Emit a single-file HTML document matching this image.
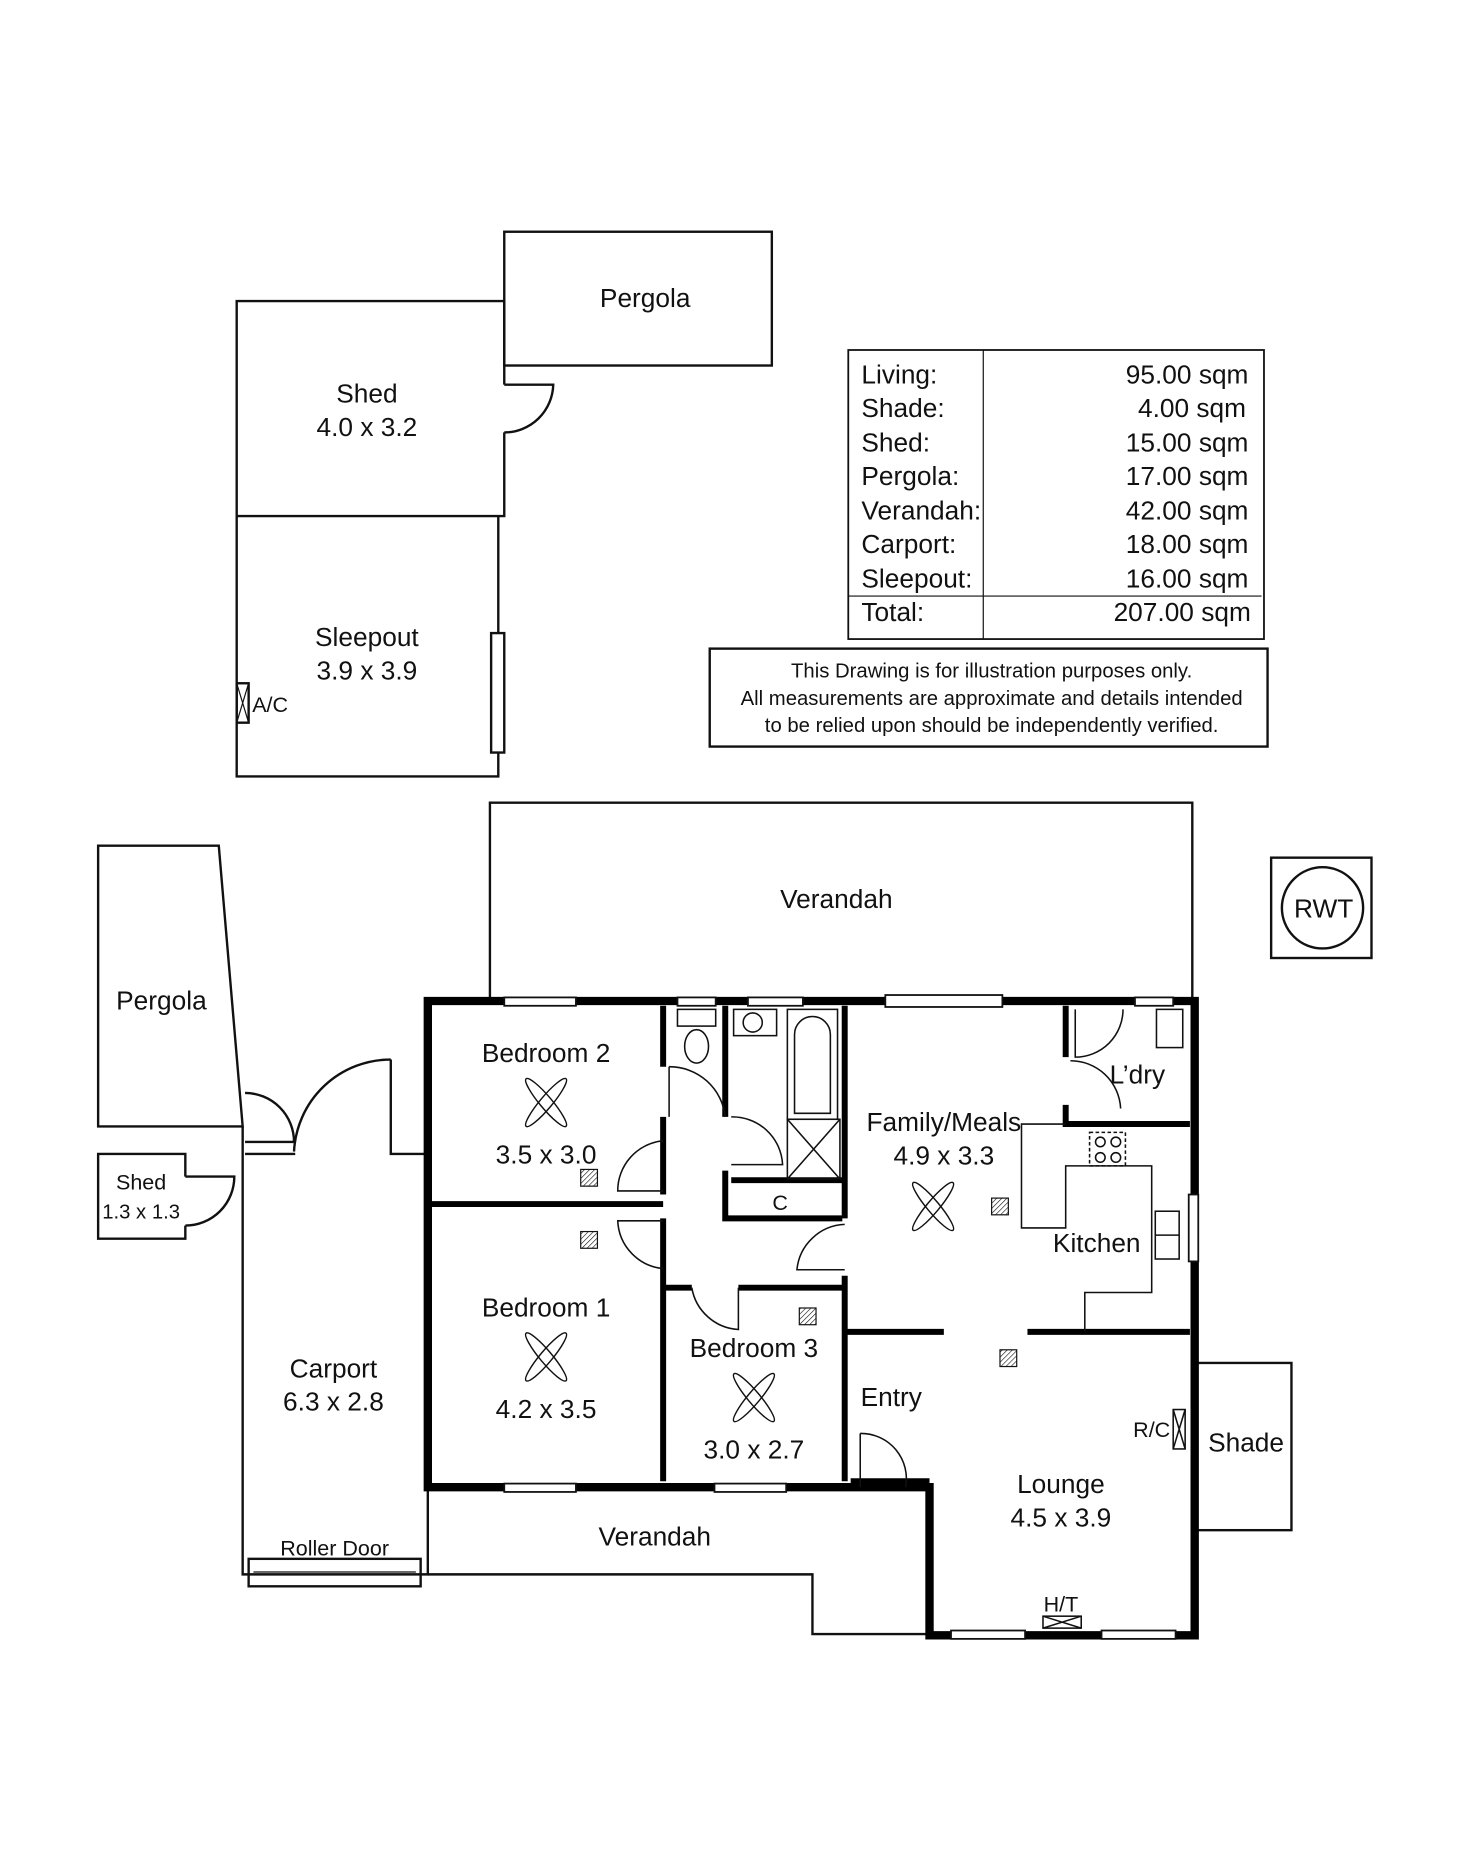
<!DOCTYPE html>
<html><head><meta charset="utf-8"><style>
html,body{margin:0;padding:0;background:#fff;}
svg{display:block;}
text{font-family:"Liberation Sans Narrow","Liberation Sans",sans-serif;fill:#111;}
</style></head><body>
<svg width="1472" height="1873" viewBox="0 0 1232 1568" xmlns="http://www.w3.org/2000/svg">
<defs>
<pattern id="h" width="3" height="3" patternUnits="userSpaceOnUse" patternTransform="rotate(45)">
<line x1="0" y1="0" x2="0" y2="3" stroke="#111" stroke-width="1"/>
</pattern>
</defs>
<g fill="none" stroke="#111" stroke-width="2">
<rect x="422" y="194" width="224" height="112"/>
<path d="M422 322 V252 H198 V432 H422 V362"/>
<path d="M422 322 H463 A41 41 0 0 1 422 362"/>
<path d="M198 432 V650 H417 V432"/>
<rect x="411" y="530" width="11" height="100" fill="#fff"/>
<rect x="198" y="572" width="10" height="33"/>
<path d="M198 572 L208 605 M208 572 L198 605" stroke-width="1"/>
<rect x="710" y="293" width="348" height="242" stroke-width="1.5"/>
<line x1="823" y1="293" x2="823" y2="535" stroke-width="1"/>
<line x1="710" y1="499" x2="1056" y2="499" stroke-width="1"/>
<rect x="594" y="543" width="467" height="82"/>
<path d="M410 838 V672 H998 V838"/>
<rect x="1064" y="718" width="84" height="84"/>
<circle cx="1107" cy="760" r="34"/>
<path d="M82 943 V708 H183 L203 943 Z"/>
<path d="M155 985 V966 H82 V1037 H155 V1026"/>
<path d="M155 985 H196 A41 41 0 0 1 155 1026"/>
<path d="M203 943 V1318 H358 V1245"/>
<path d="M358 966 H327 V887"/>
<path d="M246 964 A81 81 0 0 1 327 887"/>
<path d="M205 956 H247 M205 966 H247"/>
<path d="M205 915 A41 41 0 0 1 246 956"/>
<rect x="208" y="1305" width="144" height="23"/>
<line x1="212" y1="1316" x2="348" y2="1316" stroke-width="1"/>
<path d="M358 1318 H680 V1368 H778"/>
<rect x="1000" y="1141" width="81" height="140"/>
</g>
<g fill="none" stroke="#000" stroke-width="7" stroke-linecap="square">
<path d="M358 838 H1000 V1369 H778 V1245 H358 Z"/>
</g>
<g fill="none" stroke="#000" stroke-width="5">
<line x1="358" y1="1008" x2="555" y2="1008"/>
<path d="M555 842 V893 M555 1020 V1240"/>
<path d="M555 935 V1000"/>
<line x1="607" y1="842" x2="607" y2="935"/>
<path d="M607 980 V1020 H705"/>
<path d="M612 988 H705"/>
<line x1="707" y1="842" x2="707" y2="1020"/>
<line x1="707" y1="1068" x2="707" y2="1240"/>
<path d="M555 1078 H579 M618 1078 H707"/>
<path d="M707 1115 H790 M860 1115 H996"/>
<path d="M892 842 V885 M892 925 V941 H996"/>
<path d="M712 1240 H778"/>
</g>
<g fill="#fff" stroke="#111" stroke-width="1.5">
<rect x="422" y="835" width="60" height="7"/>
<rect x="567" y="835" width="32" height="7"/>
<rect x="626" y="835" width="46" height="7"/>
<rect x="741" y="833" width="98" height="10"/>
<rect x="950" y="835" width="32" height="7"/>
<rect x="422" y="1242" width="60" height="7"/>
<rect x="598" y="1242" width="60" height="7"/>
<rect x="796" y="1365" width="62" height="7"/>
<rect x="922" y="1365" width="62" height="7"/>
<rect x="995" y="1000" width="8" height="56"/>
</g>
<g fill="none" stroke="#111" stroke-width="1.3">
<rect x="567" y="845" width="32" height="14"/>
<ellipse cx="583" cy="876" rx="10" ry="14"/>
<rect x="614" y="845" width="36" height="22"/>
<circle cx="630" cy="856" r="8"/>
<rect x="659" y="845" width="42" height="92"/>
<path d="M665 932 V866 A15 15 0 0 1 695 866 V932 Z"/>
<rect x="659" y="937" width="44" height="50"/>
<path d="M659 937 L703 987 M703 937 L659 987"/>
<rect x="968" y="845" width="22" height="32"/>
<rect x="912" y="948" width="30" height="28" stroke-dasharray="3 2"/>
<circle cx="921" cy="956" r="4"/><circle cx="934" cy="956" r="4"/><circle cx="921" cy="969" r="4"/><circle cx="934" cy="969" r="4"/>
<path d="M892 941 H855 V1028 H892 V976 H964 V1082 H908 V1115"/>
<rect x="967" y="1014" width="20" height="40"/><line x1="967" y1="1034" x2="987" y2="1034"/>
<rect x="982" y="1180" width="10" height="33"/><path d="M982 1180 L992 1213 M992 1180 L982 1213"/>
<rect x="873" y="1353" width="32" height="10"/><path d="M873 1353 L905 1363 M905 1353 L873 1363"/>
<path d="M560 893 A47 47 0 0 1 607 935"/>
<path d="M560 893 V935"/>
<path d="M612 935 A42 42 0 0 1 655 975 H612"/>
<path d="M555 955 A42 42 0 0 0 517 997 H555"/>
<path d="M555 1022 H517 A42 42 0 0 0 555 1062"/>
<path d="M707 1025 A42 42 0 0 0 667 1063 H707"/>
<path d="M579 1078 A42 42 0 0 0 618 1113 V1078"/>
<path d="M900 845 V885 A40 40 0 0 0 940 845"/>
<path d="M896 888 A42 42 0 0 1 938 928"/>
<path d="M720 1200 A38 38 0 0 1 758 1245"/>
<path d="M720 1200 V1245"/>
</g>
<g fill="none" stroke="#111" stroke-width="1.2">
<g transform="translate(457,923)"><ellipse rx="26" ry="5" transform="rotate(50)"/><ellipse rx="26" ry="5" transform="rotate(-50)"/></g>
<g transform="translate(457,1136)"><ellipse rx="26" ry="5" transform="rotate(50)"/><ellipse rx="26" ry="5" transform="rotate(-50)"/></g>
<g transform="translate(631,1170)"><ellipse rx="26" ry="5" transform="rotate(50)"/><ellipse rx="26" ry="5" transform="rotate(-50)"/></g>
<g transform="translate(781,1010)"><ellipse rx="26" ry="5" transform="rotate(50)"/><ellipse rx="26" ry="5" transform="rotate(-50)"/></g>
</g>
<g fill="url(#h)" stroke="#111" stroke-width="1">
<rect x="486" y="979" width="14" height="14"/><rect x="486" y="1031" width="14" height="14"/>
<rect x="669" y="1095" width="14" height="14"/><rect x="830" y="1003" width="14" height="14"/>
<rect x="837" y="1130" width="14" height="14"/>
</g>
<g font-size="22" text-anchor="middle">
<text x="540" y="257">Pergola</text>
<text x="307" y="337">Shed</text><text x="307" y="365">4.0 x 3.2</text>
<text x="307" y="541">Sleepout</text><text x="307" y="569">3.9 x 3.9</text>
<text x="700" y="760">Verandah</text>
<text x="135" y="845">Pergola</text>
<text x="118" y="996" font-size="18">Shed</text><text x="118" y="1020" font-size="17">1.3 x 1.3</text>
<text x="279" y="1153">Carport</text><text x="279" y="1181">6.3 x 2.8</text>
<text x="280" y="1302" font-size="18">Roller Door</text>
<text x="457" y="889">Bedroom 2</text><text x="457" y="974">3.5 x 3.0</text>
<text x="457" y="1102">Bedroom 1</text><text x="457" y="1187">4.2 x 3.5</text>
<text x="631" y="1136">Bedroom 3</text><text x="631" y="1221">3.0 x 2.7</text>
<text x="653" y="1013" font-size="18">C</text>
<text x="790" y="947">Family/Meals</text><text x="790" y="975">4.9 x 3.3</text>
<text x="952" y="907">L’dry</text>
<text x="918" y="1048">Kitchen</text>
<text x="746" y="1177">Entry</text>
<text x="888" y="1250">Lounge</text><text x="888" y="1278">4.5 x 3.9</text>
<text x="1043" y="1215">Shade</text>
<text x="548" y="1294">Verandah</text>
<text x="1108" y="768">RWT</text>
<text x="888" y="1349" font-size="18">H/T</text>
<text x="964" y="1203" font-size="18">R/C</text>
<text x="226" y="596" font-size="18">A/C</text>
</g>
<g font-size="22">
<text x="721" y="321">Living:</text><text x="721" y="349">Shade:</text><text x="721" y="378">Shed:</text>
<text x="721" y="406">Pergola:</text><text x="721" y="435">Verandah:</text><text x="721" y="463">Carport:</text>
<text x="721" y="492">Sleepout:</text><text x="721" y="520">Total:</text>
</g>
<g font-size="22" text-anchor="end">
<text x="1045" y="321">95.00 sqm</text><text x="1043" y="349">4.00 sqm</text><text x="1045" y="378">15.00 sqm</text>
<text x="1045" y="406">17.00 sqm</text><text x="1045" y="435">42.00 sqm</text><text x="1045" y="463">18.00 sqm</text>
<text x="1045" y="492">16.00 sqm</text><text x="1047" y="520">207.00 sqm</text>
</g>
<g font-size="17" text-anchor="middle">
<text x="830" y="567">This Drawing is for illustration purposes only.</text>
<text x="830" y="590">All measurements are approximate and details intended</text>
<text x="830" y="613">to be relied upon should be independently verified.</text>
</g>
</svg>
</body></html>
